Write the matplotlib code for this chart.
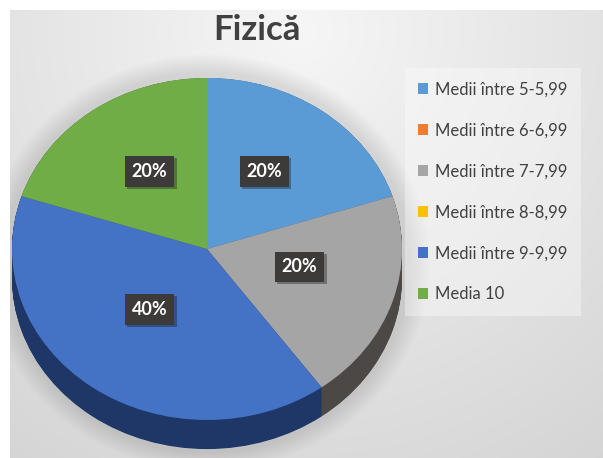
import numpy as np
import matplotlib
matplotlib.use("Agg")
import matplotlib.pyplot as plt
from matplotlib import patheffects

plt.rcParams['font.family'] = ['Lato', 'DejaVu Sans']

# date
titlu = "Fizică"
categorii = ["Medii între 5-5,99", "Medii între 6-6,99", "Medii între 7-7,99",
             "Medii între 8-8,99", "Medii între 9-9,99", "Media 10"]
procente = [20, 0, 20, 0, 40, 20]
culori = ["#5b9bd5", "#ed7d31", "#a5a5a5", "#ffc000", "#4472c4", "#70ad47"]
culori_lateral = ["#2e5a85", "#8a4213", "#4b4845", "#8a6800", "#1e3767", "#3d6324"]

W, H = 603, 458
fig = plt.figure(figsize=(W / 100, H / 100), dpi=100)

# fundal cu gradient + umbra
yy, xx = np.mgrid[0:H, 0:W].astype(float)
dist = np.hypot(xx - 300, yy - 30)
v = 0.965 - 0.00025 * dist
rho = np.hypot((xx - 207) / 203, (yy - 262) / 190)
v -= 0.10 * np.clip((1.10 - rho) / 0.10, 0, 1)
img = np.dstack([v, v, v])
img[:10, :, :] = 1.0
img[:, :10, :] = 1.0
bg = fig.add_axes([0, 0, 1, 1], zorder=0)
bg.imshow(np.clip(img, 0, 1), aspect='auto', interpolation='bilinear')
bg.axis('off')

# axa pentru pie (elipsa: rx=195px, ry=171px, centru (207, 249))
rx, ry, cx, cy = 195, 171, 207, 249
x0, x1, y0, y1 = -1.05, 1.05, -1.25, 1.05
left = (cx + x0 * rx) / W
bottom = (H - (cy - y0 * ry)) / H
ax = fig.add_axes([left, bottom, (x1 - x0) * rx / W, (y1 - y0) * ry / H], zorder=1)
ax.patch.set_alpha(0)

adancime = 0.17
straturi = np.linspace(-adancime, 0, 40)
for i, off in enumerate(straturi):
    ax.pie(procente, colors=culori_lateral, startangle=90, counterclock=False,
           center=(0, off), wedgeprops=dict(linewidth=0))

def eticheta(p):
    return f"{p:.0f}%" if p > 0.5 else ""

wedges, texts, autotexts = ax.pie(
    procente, colors=culori, startangle=90, counterclock=False,
    autopct=eticheta, pctdistance=0.5, wedgeprops=dict(linewidth=0))

for t in autotexts:
    t.set_color("white")
    t.set_fontweight("bold")
    t.set_fontsize(13)
    t.set_y(t.get_position()[1] + 0.05)
    t.set_bbox(dict(boxstyle="square,pad=0.38", facecolor="#3d3a3a", edgecolor="none",
                    path_effects=[patheffects.SimplePatchShadow(offset=(1.5, -1.5), alpha=0.35),
                                  patheffects.Normal()]))
    t.set_zorder(10)

ax.set_aspect('auto')
ax.set_xlim(x0, x1)
ax.set_ylim(y0, y1)
ax.axis('off')

fig.text(257 / W, 1 - 30 / H, titlu, ha='center', va='center', fontsize=25,
         fontweight='bold', color='#404040')

leg = fig.legend(wedges, categorii, loc='upper left',
                 bbox_to_anchor=(405 / W, 1 - 68 / H), borderaxespad=0,
                 fontsize=12, handlelength=0.6, handleheight=0.6, handletextpad=0.4,
                 labelspacing=1.5, frameon=True, fancybox=False, borderpad=0.8)
leg.get_frame().set_facecolor("white")
leg.get_frame().set_alpha(0.35)
leg.get_frame().set_edgecolor("none")
for t in leg.get_texts():
    t.set_color("#404040")

fig.savefig("out.png", dpi=100)
